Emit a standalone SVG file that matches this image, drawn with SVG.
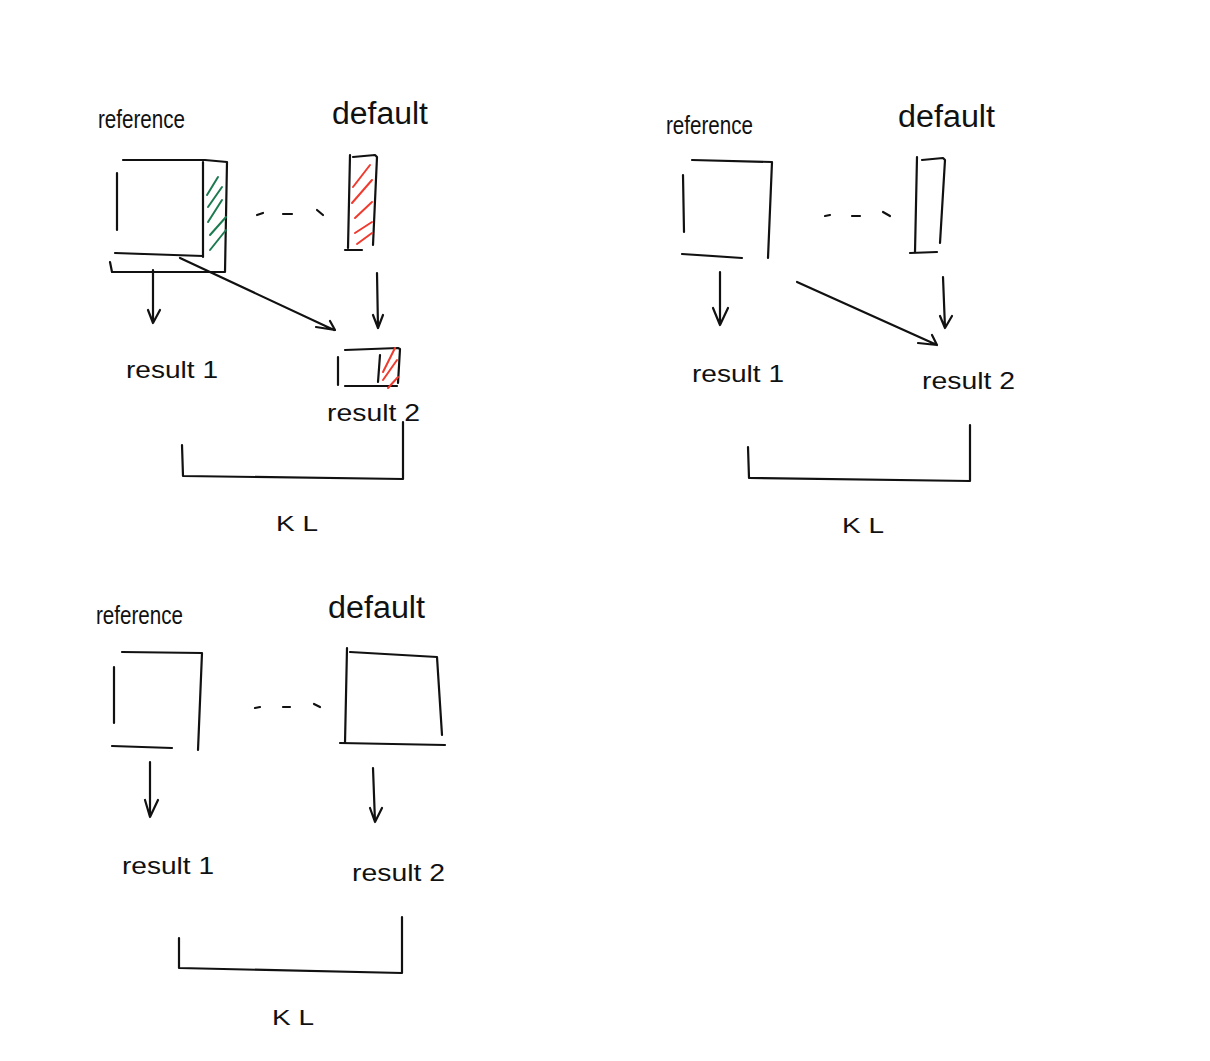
<svg xmlns="http://www.w3.org/2000/svg" width="1210" height="1061" viewBox="0 0 1210 1061">
<style>
.s{fill:none;stroke:#111;stroke-width:2.2;stroke-linecap:round;stroke-linejoin:round}
.g{fill:none;stroke:#1b7a4f;stroke-width:2;stroke-linecap:round}
.r{fill:none;stroke:#f03a2e;stroke-width:2;stroke-linecap:round}
.t{font-family:"Liberation Sans",Arial,sans-serif;fill:#111}
.ref{font-size:26px}
.def{font-size:31px}
.res{font-size:24px}
.kl{font-size:22px}
</style>
<rect width="1210" height="1061" fill="#fff"/>

<!-- Panel 1 -->
<g id="p1-reference">
<text class="t ref" x="98" y="128" textLength="87" lengthAdjust="spacingAndGlyphs">reference</text>
<path class="s" d="M123,160 L205,160 L227,162 L225,272 L112,272 L110,262"/>
<path class="s" d="M117,173 L117,230"/>
<path class="s" d="M115,253 L203,256"/>
<path class="s" d="M203,162 L203,257"/>
<path class="g" d="M207,195 L218,177 M208,207 L222,187 M208,222 L222,200 M210,235 L226,217 M210,250 L226,230"/>
</g>
<g id="p1-default">
<text class="t def" x="332" y="124" textLength="96" lengthAdjust="spacingAndGlyphs">default</text>
<path class="s" d="M350,155 L348,248 M353,157 L375,155 L377,157 L373,245"/>
<path class="s" d="M345,250 L362,250" stroke-width="3"/>
<path class="r" d="M353,187 L370,165 M352,203 L372,180 M355,218 L372,202 M355,233 L372,222 M357,244 L372,233"/>
</g>
<g id="p1-result1">
<text class="t res" x="126" y="378" textLength="92" lengthAdjust="spacingAndGlyphs">result 1</text>
</g>
<g id="p1-result2">
<path class="s" d="M338,357 L338,385 M345,350 L398,348 L400,349 L398,383 M345,386 L397,386 M380,355 L378,382"/>
<path class="r" d="M383,372 L395,348 M383,380 L397,360 M388,388 L398,377"/>
<text class="t res" x="327" y="421" textLength="93" lengthAdjust="spacingAndGlyphs">result 2</text>
</g>
<g id="p1-kl">
<text class="t kl" x="276" y="531" textLength="42" lengthAdjust="spacingAndGlyphs">K L</text>
</g>

<!-- Panel 2 -->
<g id="p2-reference">
<text class="t ref" x="666" y="134" textLength="87" lengthAdjust="spacingAndGlyphs">reference</text>
<path class="s" d="M692,160 L772,162 L768,258 M683,175 L684,232 M682,254 L742,258"/>
</g>
<g id="p2-default">
<text class="t def" x="898" y="127" textLength="97" lengthAdjust="spacingAndGlyphs">default</text>
<path class="s" d="M917,157 L915,252 M922,160 L943,158 L945,160 L940,243"/>
<path class="s" d="M910,253 L937,252" stroke-width="3"/>
</g>
<g id="p2-result1">
<text class="t res" x="692" y="382" textLength="92" lengthAdjust="spacingAndGlyphs">result 1</text>
</g>
<g id="p2-result2">
<text class="t res" x="922" y="389" textLength="93" lengthAdjust="spacingAndGlyphs">result 2</text>
</g>
<g id="p2-kl">
<text class="t kl" x="842" y="533" textLength="42" lengthAdjust="spacingAndGlyphs">K L</text>
</g>

<!-- Panel 3 -->
<g id="p3-reference">
<text class="t ref" x="96" y="624" textLength="87" lengthAdjust="spacingAndGlyphs">reference</text>
<path class="s" d="M122,652 L202,653 L198,750 M114,667 L114,723 M112,746 L172,748"/>
</g>
<g id="p3-default">
<text class="t def" x="328" y="618" textLength="97" lengthAdjust="spacingAndGlyphs">default</text>
<path class="s" d="M347,648 L345,743 M350,652 L437,657 L442,735 M340,743 L445,745"/>
</g>
<g id="p3-result1">
<text class="t res" x="122" y="874" textLength="92" lengthAdjust="spacingAndGlyphs">result 1</text>
</g>
<g id="p3-result2">
<text class="t res" x="352" y="881" textLength="93" lengthAdjust="spacingAndGlyphs">result 2</text>
</g>
<g id="p3-kl">
<text class="t kl" x="272" y="1025" textLength="42" lengthAdjust="spacingAndGlyphs">K L</text>
</g>

<g id="connectors">
<!-- panel 1 -->
<path class="s" d="M257,215 L263,213 M283,214 L292,214 M317,210 L323,215"/>
<path class="s" d="M153,270 L153,323 M148,310 L153,323 L160,310"/>
<path class="s" d="M180,258 L334,330 M316,327 L335,330 L330,321"/>
<path class="s" d="M377,273 L378,328 M373,315 L378,328 L383,315"/>
<path class="s" d="M182,445 L183,476 L403,479 L403,422"/>
<!-- panel 2 -->
<path class="s" d="M825,216 L830,215 M852,216 L860,216 M883,212 L890,216"/>
<path class="s" d="M720,272 L720,325 M713,308 L720,325 L728,308"/>
<path class="s" d="M797,282 L937,345 M918,343 L937,345 L932,335"/>
<path class="s" d="M943,277 L945,328 M940,316 L945,328 L952,316"/>
<path class="s" d="M748,447 L749,478 L970,481 L970,425"/>
<!-- panel 3 -->
<path class="s" d="M255,708 L260,707 M283,707 L290,707 M314,704 L320,707"/>
<path class="s" d="M150,762 L150,817 M145,800 L150,817 L158,800"/>
<path class="s" d="M373,768 L375,822 M370,808 L375,822 L382,808"/>
<path class="s" d="M179,938 L179,968 L402,973 L402,917"/>
</g>
</svg>
